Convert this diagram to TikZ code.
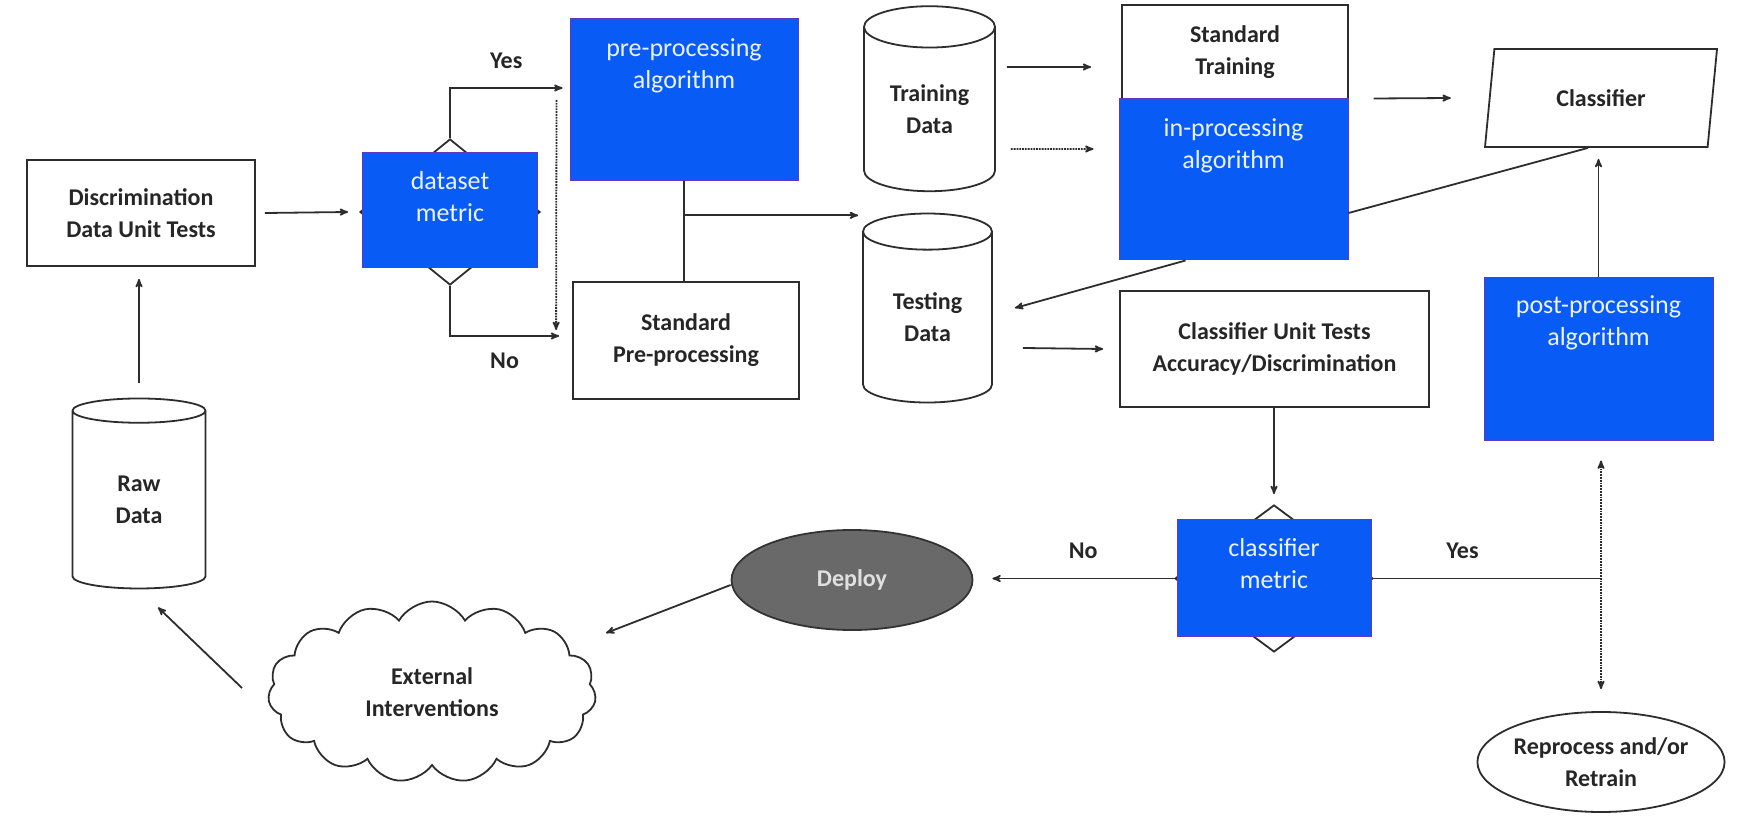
\documentclass[tikz,border=0pt]{standalone}
\usepackage{fontspec}
\setmainfont{Carlito}
\usetikzlibrary{calc}
\usetikzlibrary{arrows}
\usetikzlibrary{positioning}
\usetikzlibrary{shapes.geometric,shapes.symbols}

\definecolor{algblue}{RGB}{8,92,245}
\definecolor{algedge}{RGB}{95,55,195}
\definecolor{algtext}{RGB}{236,242,255}
\definecolor{lineclr}{RGB}{45,45,45}
\definecolor{deploygray}{RGB}{105,105,105}

\tikzset{
 flowtext/.style={font=\fontsize{24}{32}\selectfont\bfseries, text=black!85, align=center},
 plainbox/.style={draw=lineclr, line width=1.8pt, fill=white, flowtext, inner sep=0pt},
 algbox/.style={draw=algedge, line width=1pt, fill=algblue, inner sep=0pt},
 algtxt/.style={font=\fontsize{26}{32}\selectfont, text=algtext, align=center, inner sep=0pt},
 datadb/.style={cylinder, shape border rotate=90, aspect=0.52, draw=lineclr, line width=1.8pt, fill=white, flowtext, inner sep=0pt},
 gate/.style={diamond, draw=lineclr, line width=1.8pt, inner sep=0pt},
 arr/.style={->, >=stealth', draw=lineclr, line width=1.8pt},
 link/.style={draw=lineclr, line width=1.8pt},
 tag/.style={flowtext, inner sep=0pt},
}

\begin{document}
\begin{tikzpicture}[x=1pt, y=-1pt]
\useasboundingbox (0,0) rectangle (1748,826);

% data side
\node[plainbox, minimum width=228pt, minimum height=106pt] (disc) at (141,213) {Discrimination\\Data Unit Tests};
\node[datadb, minimum width=133pt, minimum height=190pt] (raw) at (139,500) {Raw\\Data};

\node[gate, minimum width=180pt, minimum height=146pt] (dsgate) at (450,212) {};
\node[algbox, minimum width=175pt, minimum height=115pt] (dsm) at (450,210) {};
\node[algtxt] (dsmt) at ([yshift=-45pt]dsm.north) {dataset\\metric};

\node[algbox, minimum width=228pt, minimum height=162pt] (pre) at (684,100) {};
\node[algtxt] (pret) at ([yshift=-47pt]pre.north) {pre-processing\\algorithm};
\node[plainbox, minimum width=226pt, minimum height=117pt] (stdpre) at (686,340.5) {Standard\\Pre-processing};

\node[datadb, minimum width=131pt, minimum height=185pt] (train) at (929.5,109.5) {Training\\Data};
\node[datadb, minimum width=129pt, minimum height=189pt] (test) at (927.5,317.5) {Testing\\Data};

% model side
\node[plainbox, minimum width=226pt, minimum height=94pt] (stdtrain) at (1235,52) {Standard\\Training};
\node[algbox, minimum width=229pt, minimum height=161pt] (inp) at (1233.5,179.5) {};
\node[algtxt] (inpt) at ([yshift=-47pt]inp.north) {in-processing\\algorithm};

\node[plainbox, minimum width=309pt, minimum height=116pt] (cut) at (1274.5,349) {Classifier Unit Tests\\Accuracy/Discrimination};

\node[trapezium, trapezium left angle=77, trapezium right angle=103, trapezium stretches=true,
      draw=lineclr, line width=1.8pt, fill=white, flowtext, inner sep=0pt,
      minimum width=234pt, minimum height=98pt] (clf) at (1601,98) {Classifier};
\node[algbox, minimum width=229pt, minimum height=162pt] (post) at (1598.5,359) {};
\node[algtxt] (postt) at ([yshift=-45pt]post.north) {post-processing\\algorithm};

\node[gate, minimum width=198pt, minimum height=147pt] (clgate) at (1274,578.5) {};
\node[algbox, minimum width=194pt, minimum height=117pt] (clm) at (1274,577.5) {};
\node[algtxt] (clmt) at ([yshift=-45pt]clm.north) {classifier\\metric};

% outcomes
\node[ellipse, draw=black!80, line width=1.8pt, fill=deploygray, flowtext, text=black!12,
      minimum width=241pt, minimum height=100pt] (deploy) at (852,580) {Deploy};
\node[cloud, cloud puffs=15, cloud puff arc=120, aspect=1.8, draw=lineclr, line width=1.8pt,
      fill=white, flowtext, minimum width=328pt, minimum height=181pt] (ext) at (432,692) {External\\Interventions};
\node[ellipse, draw=lineclr, line width=1.8pt, fill=white, flowtext, inner sep=0pt,
      minimum width=242pt, minimum height=100pt] (redo) at (1601,762) {Reprocess and/or\\Retrain};

\coordinate (split) at ($(pre.south)!0.34!(pre.south |- stdpre.north)$);

% connectors
\draw[arr] ([yshift=15pt]raw.north) -- ([yshift=-12pt]raw.north |- disc.south);
\draw[arr] ([xshift=9pt]disc.east) -- ([xshift=-11pt]dsgate.west);
\draw[arr] (dsgate.north) |- ([xshift=-7pt,yshift=12pt]pre.west) node[tag, pos=0.75, above=18pt] (yes1) {Yes};
\draw[arr] (dsgate.south) |- ([xshift=-13pt,yshift=4.5pt]stdpre.west) node[tag, pos=0.75, below=16pt] (no1) {No};
\draw[arr, densely dotted] ([xshift=-13pt]pre.west) -- ([xshift=-16pt,yshift=10.5pt]stdpre.west);
\draw[link] (pre.south) -- (pre.south |- stdpre.north);
\draw[arr] (split) -- ([xshift=-4pt]split -| test.west);

\draw[arr] ([xshift=11pt,yshift=42.5pt]train.east) -- ([xshift=-30pt,yshift=-15pt]stdtrain.west);
\draw[arr, densely dotted] ([xshift=15pt,yshift=-39.5pt]train.east) -- ([xshift=-25pt,yshift=30.5pt]inp.west);
\draw[arr] ([xshift=-48pt]inp.south) -- ([xshift=22pt,yshift=9.5pt]test.east);
\draw[arr] ([xshift=25pt]inp.north east) -- ([xshift=-38pt]clf.west);
\draw[link] ([yshift=-33.5pt]inp.east) -- ([xshift=-13pt]clf.south);
\draw[arr] (post.north) -- ([yshift=-11pt]post.north |- clf.south);

\draw[arr] ([xshift=30pt,yshift=-30.5pt]test.east) -- ([xshift=-16pt,yshift=-31.5pt]cut.west |- test.east);
\draw[arr] (cut.south -| clgate.north) -- ([yshift=10pt]clgate.north);
\draw[arr] (clgate.west) -- ([xshift=19pt]deploy.east |- clgate.west) node[tag, midway, above=19pt] (no2) {No};
\draw[link] (clgate.east) -- (clgate.east -| redo.north) node[tag, pos=0.39, above=19pt] (yes2) {Yes};
\draw[<->, >=stealth', draw=lineclr, line width=1.8pt, densely dotted] ([yshift=-20pt]redo.north |- post.south) -- ([yshift=22pt]redo.north);

\draw[arr] ([yshift=-5pt]deploy.west) -- ([xshift=174pt,yshift=59pt]ext.center);
\draw[arr] ([xshift=-190pt,yshift=4pt]ext.center) -- ([xshift=19pt,yshift=-18pt]raw.south);
\end{tikzpicture}
\end{document}
